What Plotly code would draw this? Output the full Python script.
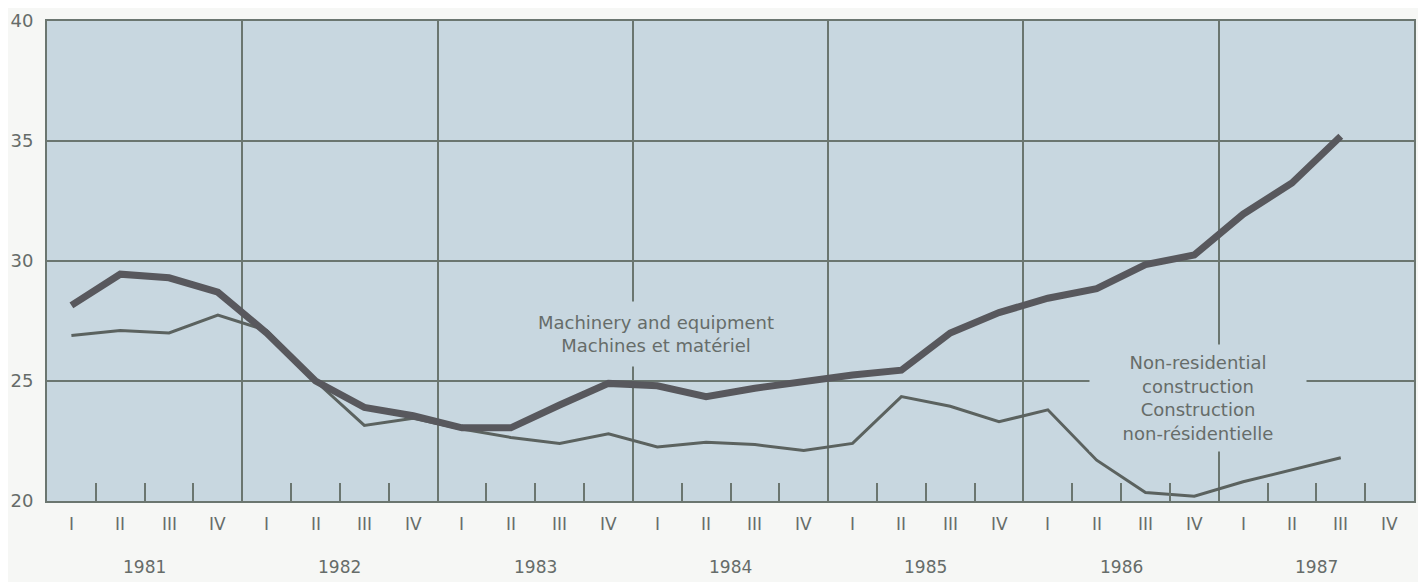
import plotly.graph_objects as go

# Investment by quarter, 1981 Q1 - 1987 Q3
years = [1981, 1982, 1983, 1984, 1985, 1986, 1987]
quarter_labels = ["I", "II", "III", "IV"]

machinery = [28.15, 29.45, 29.3, 28.7,
             27.0, 25.0, 23.9, 23.55,
             23.05, 23.05, 24.0, 24.9,
             24.8, 24.35, 24.7, 25.0,
             25.25, 25.45, 27.0, 27.85,
             28.45, 28.85, 29.85, 30.25,
             31.95, 33.25, 35.2]

construction = [26.9, 27.1, 27.0, 27.75,
                27.1, 25.0, 23.15, 23.45,
                23.0, 22.65, 22.4, 22.8,
                22.25, 22.45, 22.35, 22.1,
                22.4, 24.35, 23.95, 23.3,
                23.8, 21.7, 20.35, 20.2,
                20.8, 21.3, 21.8]

y_ticks = [20, 25, 30, 35, 40]

# position of each quarter: centre of the quarter on a year axis
x_pos = [years[0] + (i + 0.5) / 4 for i in range(len(machinery))]
year_edges = years + [years[-1] + 1]
quarter_edges = [y + q / 4 for y in years for q in (1, 2, 3)]

BG = "#c8d7e0"
PAPER = "#f6f7f5"
GRID = "#6b7670"
TEXT = "#666c69"
FONT = "DejaVu Sans"

fig = go.Figure()

fig.add_trace(go.Scatter(x=x_pos, y=construction, mode="lines",
                         line=dict(color="#5b625f", width=3),
                         name="Non-residential construction", hoverinfo="x+y"))
fig.add_trace(go.Scatter(x=x_pos, y=machinery, mode="lines",
                         line=dict(color="#58585d", width=7),
                         name="Machinery and equipment", hoverinfo="x+y"))

# series labels, boxed in the plot colour so they break the grid lines
fig.add_annotation(x=1984.12, y=26.95, xref="x", yref="y",
                   text="Machinery and equipment<br>Machines et matériel",
                   showarrow=False, font=dict(family=FONT, size=18, color=TEXT),
                   bgcolor=BG, width=262, height=64, borderpad=0)
fig.add_annotation(x=1986.895, y=24.3, xref="x", yref="y",
                   text="Non-residential<br>construction<br>Construction<br>non-résidentielle",
                   showarrow=False, font=dict(family=FONT, size=18, color=TEXT),
                   bgcolor=BG, width=216, height=106, borderpad=0)

# quarter and year labels under the axis
for y in years:
    for q, lab in enumerate(quarter_labels):
        fig.add_annotation(x=y + (q + 0.5) / 4, y=0, xref="x", yref="paper",
                           text=lab, showarrow=False, yanchor="middle", yshift=-23,
                           font=dict(family=FONT, size=17, color=TEXT))
    fig.add_annotation(x=y + 0.5, y=0, xref="x", yref="paper",
                       text=str(y), showarrow=False, yanchor="middle", yshift=-66,
                       font=dict(family=FONT, size=17, color=TEXT))

fig.update_layout(
    width=1410, height=574,
    margin=dict(l=36, r=2, t=7, b=81),
    paper_bgcolor=PAPER, plot_bgcolor=BG,
    showlegend=False,
    font=dict(family=FONT, color=TEXT),
    xaxis=dict(range=[year_edges[0], year_edges[-1]],
               tickmode="array", tickvals=year_edges, showticklabels=False,
               ticks="", showgrid=True, gridcolor=GRID, gridwidth=2,
               zeroline=False, showline=True, mirror=True,
               linecolor=GRID, linewidth=2,
               minor=dict(tickmode="array", tickvals=quarter_edges, ticks="inside",
                          ticklen=18, tickwidth=2, tickcolor=GRID, showgrid=False)),
    yaxis=dict(range=[20, 40], tickmode="array", tickvals=y_ticks, ticks="",
               showgrid=True, gridcolor=GRID, gridwidth=2, zeroline=False,
               showline=True, mirror=True, linecolor=GRID, linewidth=2,
               ticklabelstandoff=8, ticklabeloverflow="allow",
               tickfont=dict(family=FONT, size=18, color=TEXT)),
)

fig.write_html("out.html")
